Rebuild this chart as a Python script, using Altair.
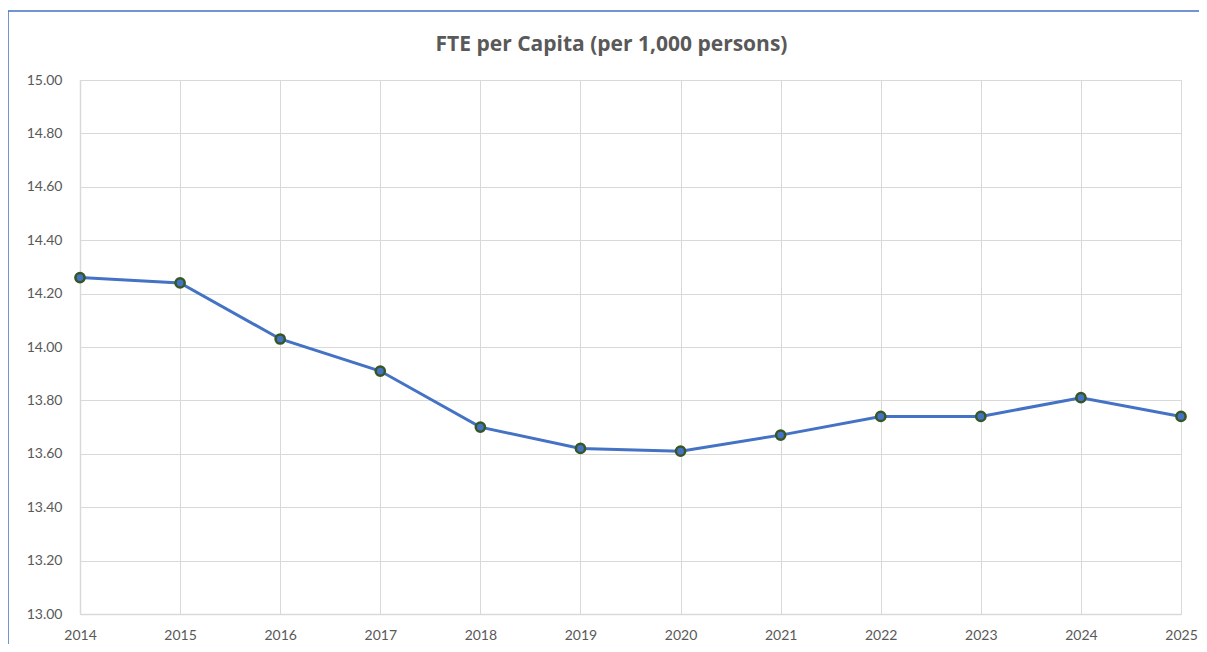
import altair as alt
import pandas as pd

years = [2014, 2015, 2016, 2017, 2018, 2019, 2020, 2021, 2022, 2023, 2024, 2025]
fte_per_capita = [14.26, 14.24, 14.03, 13.91, 13.70, 13.62, 13.61, 13.67, 13.74, 13.74, 13.81, 13.74]
y_ticks = [13.0, 13.2, 13.4, 13.6, 13.8, 14.0, 14.2, 14.4, 14.6, 14.8, 15.0]
title_text = "FTE per Capita (per 1,000 persons)"

df = pd.DataFrame({"year": years, "value": fte_per_capita})

W, H = 1101, 534
PAD = {"left": 72, "top": 72, "right": 18, "bottom": 30}

x = alt.X("year:Q",
          scale=alt.Scale(domain=[2014, 2025], nice=False, zero=False),
          axis=alt.Axis(values=years, format="d", title=None, grid=True,
                        gridColor="#d9d9d9", gridWidth=1, ticks=False,
                        domainColor="#d9d9d9", domainWidth=1.5,
                        labelFont="Lato", labelFontSize=14, labelColor="#595959",
                        labelPadding=14, labelAngle=0, labelFlush=False,
                        labelOverlap=False, labelBound=False))
y = alt.Y("value:Q",
          scale=alt.Scale(domain=[13, 15], nice=False, zero=False),
          axis=alt.Axis(values=y_ticks, format=".2f", title=None, grid=True,
                        gridColor="#d9d9d9", gridWidth=1, ticks=False,
                        domainColor="#d9d9d9", domainWidth=1.5,
                        labelFont="Lato", labelFontSize=14, labelColor="#595959",
                        labelPadding=18, labelFlush=False, labelOverlap=False))

frame = alt.Chart(pd.DataFrame({"a": [0]})).mark_rect(
    fill=None, stroke="#4472C4", strokeWidth=1.5, clip=False
).encode(
    x=alt.value(-72), x2=alt.value(W + 60),
    y=alt.value(-69), y2=alt.value(H + 60)
)

title = alt.Chart(pd.DataFrame({"t": [title_text]})).mark_text(
    font="Open Sans", fontSize=21, fontWeight="bold", color="#595959",
    align="center", baseline="middle", clip=False
).encode(
    text="t:N", x=alt.value(W / 2 - 19), y=alt.value(-35)
)

line = alt.Chart(df).mark_line(color="#4472C4", strokeWidth=3).encode(x=x, y=y)
points = alt.Chart(df).mark_point(
    filled=True, fill="#4472C4", stroke="#375623", strokeWidth=2.5, size=85, opacity=1
).encode(x=x, y=y)

chart = alt.layer(frame, line, points, title).properties(
    width=W, height=H,
    autosize=alt.AutoSizeParams(type="none"),
    padding=PAD
).configure_view(stroke=None).configure(background="white")

chart.save("out.html", embed_options={"renderer": "svg", "actions": False})
